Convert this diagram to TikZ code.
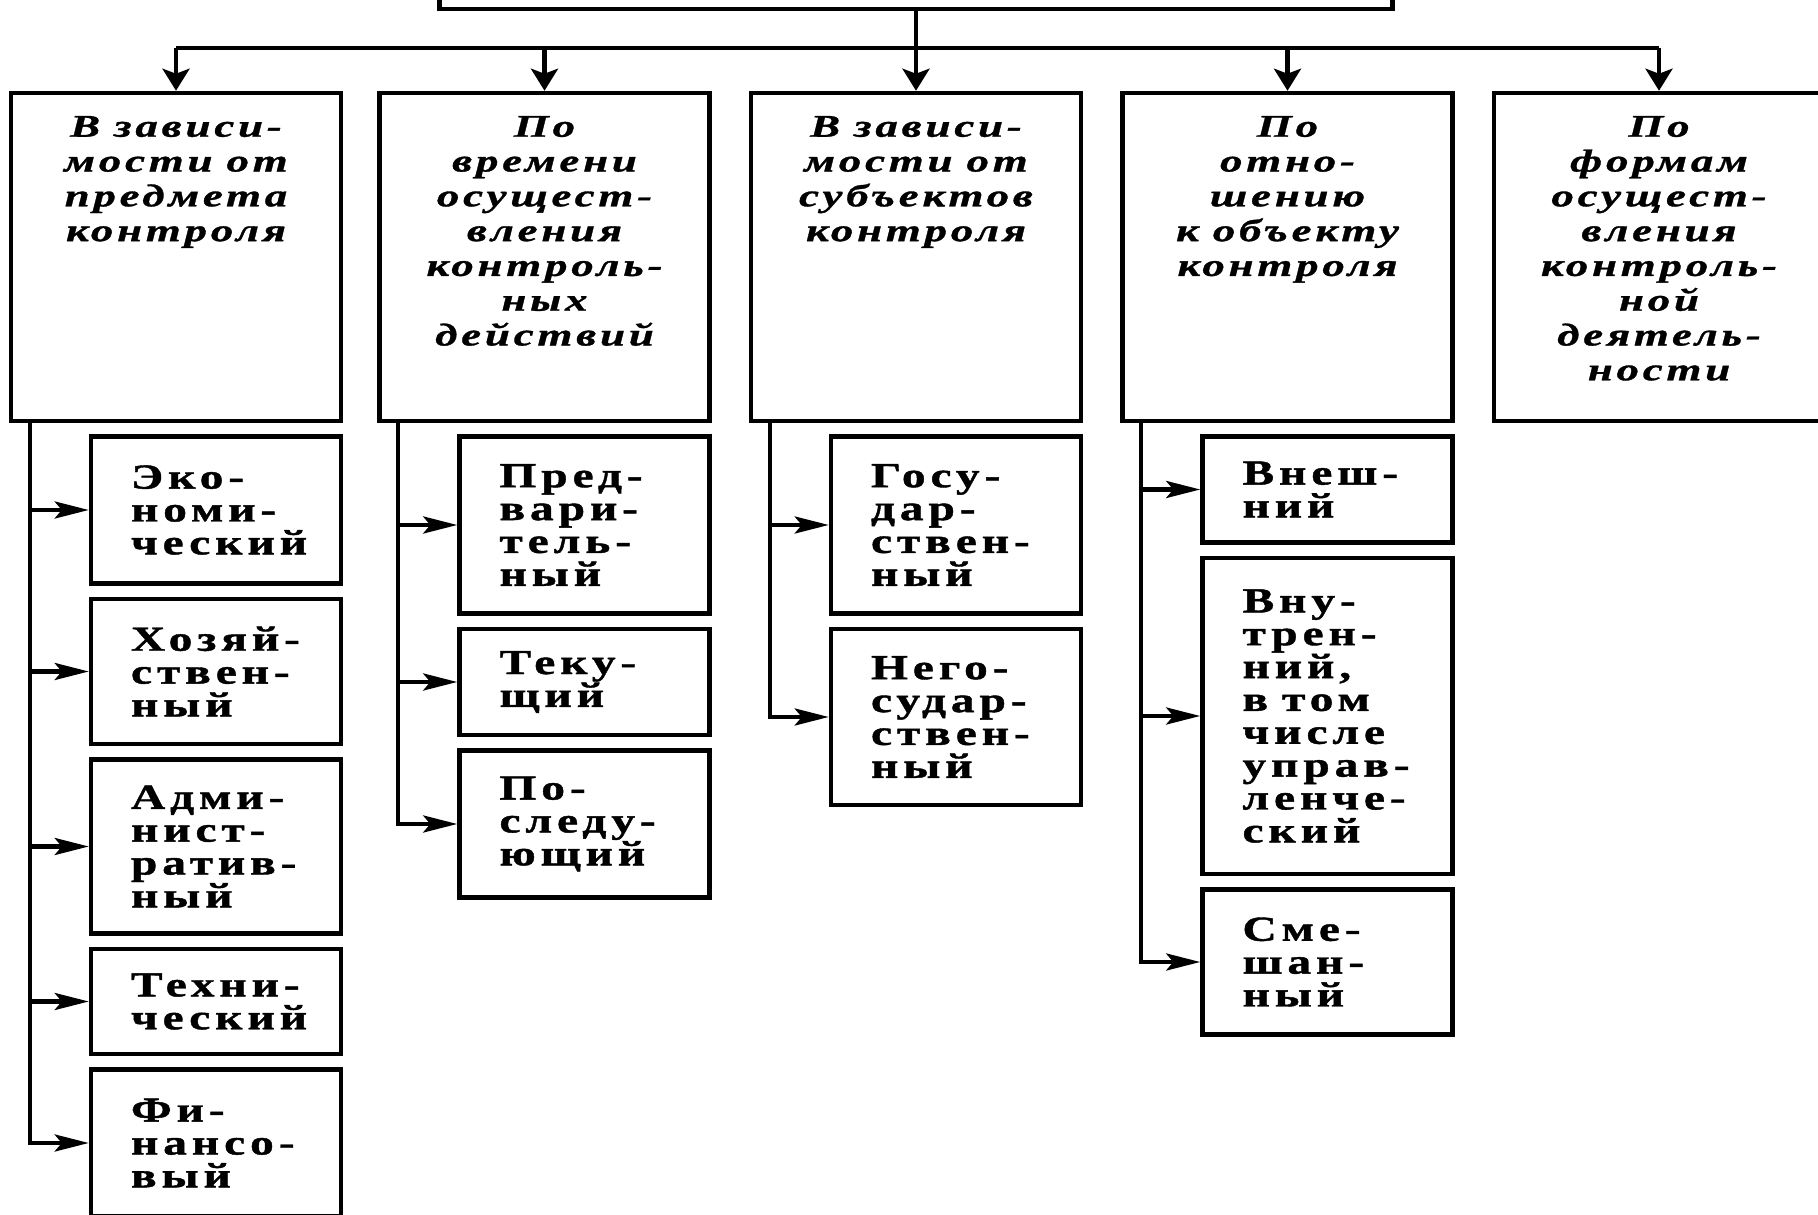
\documentclass[tikz,border=0pt]{standalone}
\usepackage{fontspec}
\setmainfont{Liberation Serif}
\newfontfamily\hdrfont[FakeStretch=1.42,LetterSpace=12,FakeBold=1]{Liberation Serif}
\newfontfamily\subfont[FakeStretch=1.35,LetterSpace=14,FakeBold=1.2]{Liberation Serif}
\protected\def\hdrstyle{\hdrfont\bfseries\itshape\fontsize{9}{9.9}\selectfont}
\protected\def\kindstyle{\subfont\bfseries\fontsize{10}{9.35}\selectfont}
\newcommand{\wsp}{\hspace{1.4mm}}
\usetikzlibrary{arrows.meta,positioning}
\tikzset{
  link/.style = {line width=0.42mm},
  darr/.style = {
    line width=0.42mm,
    -{Stealth[length=2.2mm,width=2.7mm,inset=0.5mm]},
  },
  harr/.style = {
    line width=0.42mm,
    -{Stealth[length=3.4mm,width=1.7mm,inset=0.7mm]},
  }
}

\begin{document}
\begin{tikzpicture}[x=0.1mm, y=-0.1mm]
  % vertices
  \tikzstyle{root} = [rectangle, draw, line width=0.42mm, minimum width=95.3mm, minimum height=12mm]
  \tikzstyle{crit} = [rectangle, draw, line width=0.45mm, minimum width=33mm, minimum height=32.8mm]
  \tikzstyle{critlabel} = [text width=33mm, align=center, inner sep=0pt, anchor=base, font=\hdrstyle]
  \tikzstyle{kind} = [rectangle, draw, line width=0.45mm, minimum width=25mm, text width=17mm, inner xsep=0pt, align=left, font=\kindstyle]

  \fill[white] (0,0) rectangle (1818,1215);
  \useasboundingbox (0,0) rectangle (1818,1215);

  \node[crit] (vC) at (916,257) {};
  \node[crit, left=3.7mm of vC] (vB) {};
  \node[crit, left=3.4mm of vB] (vA) {};
  \node[crit, right=3.7mm of vC] (vD) {};
  \node[crit, right=3.7mm of vD] (vE) {};
  \node[root, above=8mm of vC] (root) {};

  \node[below=4.6mm of vA.north, critlabel] (lA) {В\wsp зависи-\\мости\wsp от\\предмета\\контроля};
  \node[below=4.6mm of vB.north, critlabel] (lB) {По\\времени\\осущест-\\вления\\контроль-\\ных\\действий};
  \node[below=4.6mm of vC.north, critlabel] (lC) {В\wsp зависи-\\мости\wsp от\\субъектов\\контроля};
  \node[below=4.6mm of vD.north, critlabel] (lD) {По\\отно-\\шению\\к\wsp объекту\\контроля};
  \node[below=4.6mm of vE.north, critlabel] (lE) {По\\формам\\осущест-\\вления\\контроль-\\ной\\деятель-\\ности};

  % by subject
  \node[kind, minimum height=14.7mm, below=1.1mm of vA.south east, anchor=north east] (eco) {Эко-\\номи-\\ческий};
  \node[kind, minimum height=14.5mm, below=1.1mm of eco] (hoz) {Хозяй-\\ствен-\\ный};
  \node[kind, minimum height=17.4mm, below=1.1mm of hoz] (adm) {Адми-\\нист-\\ратив-\\ный};
  \node[kind, minimum height=10.5mm, below=1.1mm of adm] (teh) {Техни-\\ческий};
  \node[kind, minimum height=14.7mm, below=1.1mm of teh] (fin) {Фи-\\нансо-\\вый};

  % by time
  \node[kind, minimum height=17.7mm, below=1.1mm of vB.south east, anchor=north east] (pre) {Пред-\\вари-\\тель-\\ный};
  \node[kind, minimum height=10.6mm, below=1.1mm of pre] (cur) {Теку-\\щий};
  \node[kind, minimum height=14.7mm, below=1.1mm of cur] (post) {По-\\следу-\\ющий};

  % by actors
  \node[kind, minimum height=17.7mm, below=1.1mm of vC.south east, anchor=north east] (gov) {Госу-\\дар-\\ствен-\\ный};
  \node[kind, minimum height=17.6mm, below=1.1mm of gov] (ngov) {Него-\\судар-\\ствен-\\ный};

  % by object
  \node[kind, minimum height=10.6mm, below=1.1mm of vD.south east, anchor=north east] (ext) {Внеш-\\ний};
  \node[kind, minimum height=31.6mm, below=1.1mm of ext] (int) {Вну-\\трен-\\ний,\\в\wsp том\\числе\\управ-\\ленче-\\ский};
  \node[kind, minimum height=14.5mm, below=1.1mm of int] (mix) {Сме-\\шан-\\ный};

  % edges
  \coordinate (bus) at (0,48);
  \draw[link] (vA.north |- bus) -- (vE.north |- bus);
  \draw[darr] (root.south) -- (vC.north);
  \foreach \v in {vA,vB,vD,vE}
    \draw[darr] (\v.north |- bus) -- (\v.north);

  \coordinate (tA) at ([xshift=2.1mm]vA.south west);
  \coordinate (tB) at ([xshift=2.1mm]vB.south west);
  \coordinate (tC) at ([xshift=2.1mm]vC.south west);
  \coordinate (tD) at ([xshift=2.1mm]vD.south west);

  \draw[harr] (tA) |- (fin.west);
  \foreach \s in {eco,hoz,adm,teh}
    \draw[harr] (tA |- \s.west) -- (\s.west);
  \draw[harr] (tB) |- (post.west);
  \foreach \s in {pre,cur}
    \draw[harr] (tB |- \s.west) -- (\s.west);
  \draw[harr] (tC) |- (ngov.west);
  \draw[harr] (tC |- gov.west) -- (gov.west);
  \draw[harr] (tD) |- (mix.west);
  \foreach \s in {ext,int}
    \draw[harr] (tD |- \s.west) -- (\s.west);
\end{tikzpicture}
\end{document}
